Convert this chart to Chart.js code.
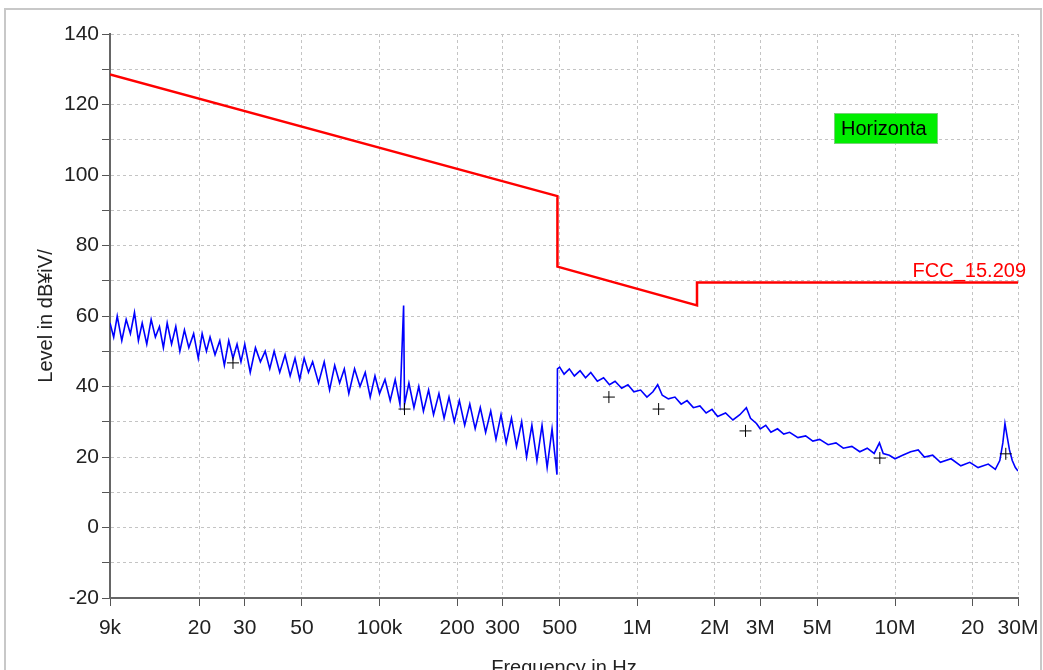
<!DOCTYPE html>
<html>
<head>
<meta charset="utf-8">
<script src="https://cdn.jsdelivr.net/npm/chart.js@4"></script>
<style>
  html, body { margin: 0; padding: 0; background: #fff; }
  #wrap { width: 1043px; height: 670px; position: relative; }
</style>
</head>
<body>
<div id="wrap"><canvas id="chart" width="1043" height="670"></canvas></div>
<script>
// frequencies in kHz, levels in dBuV
const tickFreqs = [9, 20, 30, 50, 100, 200, 300, 500, 1000, 2000, 3000, 5000, 10000, 20000, 30000];
const tickLabels = ['9k', '20', '30', '50', '100k', '200', '300', '500', '1M', '2M', '3M', '5M', '10M', '20', '30M'];

const limitFreqs = [9, 490, 490, 1705, 1705, 30000];
const limitLevels = [128.5, 94, 74, 63, 69.5, 69.5];

const scanFreqs = [
  9, 9.3, 9.6, 10, 10.4, 10.8, 11.2, 11.6, 12, 12.5, 13, 13.5, 14, 14.5, 15, 15.6, 16.2, 16.8, 17.5, 18.2,
  19, 19.8, 20.5, 21.3, 22, 23, 24, 25, 26, 27, 28, 29, 30, 31.5, 33, 34.5, 36, 37.5, 39, 41,
  43, 45, 47, 49, 51, 53, 55, 58, 61, 64, 67, 70, 73, 76, 80, 84, 88, 92, 96, 100,
  105, 110, 115, 120, 124, 125, 130, 136, 142, 148, 155, 162, 170, 178, 186, 195, 204, 214, 224, 235,
  246, 258, 270, 283, 296, 310, 325, 340, 356, 372, 390, 408, 427, 447, 467, 488, 490,
  500, 520, 545, 570, 600, 630, 660, 700, 740, 780, 820, 870, 920, 970, 1030, 1090, 1150, 1200, 1250, 1320,
  1400, 1480, 1560, 1650, 1750, 1850, 1950, 2050, 2200, 2350, 2500, 2650, 2750, 2900, 3000, 3150, 3300, 3500, 3700, 3900,
  4200, 4500, 4800, 5100, 5500, 5900, 6300, 6800, 7300, 7800, 8300, 8700, 9000, 9500, 10000, 10700, 11500, 12300, 13000, 14000,
  15000, 16500, 18000, 19500, 21000, 23000, 24500, 25500, 26200, 26700, 27200, 27800, 28500, 29300, 30000
];
const scanLevels = [
  58, 54, 60, 53, 59, 55, 61, 53, 58, 52, 59, 54, 57, 51, 58, 52, 57, 50, 56, 51,
  55, 48, 55, 50, 54, 49, 53, 46, 53, 48, 52, 47, 52, 44, 51, 47, 50, 45, 50, 44,
  49, 43, 48, 42, 48, 44, 47, 41, 47, 39, 46, 41, 45, 38, 45, 40, 44, 37, 43, 38,
  42, 36, 42, 35, 63, 35, 41, 34, 40, 33, 39, 32, 38, 31, 37, 30, 36, 29, 35, 28,
  34, 27, 33, 25, 32, 24, 31, 23, 30, 20, 29, 19, 29, 17, 28, 15, 45,
  45.5, 43.5, 45, 43, 44.5, 42.5, 44, 41.5, 42.5, 40.5, 41.5, 39.5, 40.5, 38.5, 39, 37, 38.5, 40.5, 37.5, 36.5,
  37, 35, 36, 34, 34.5, 32.5, 33.5, 31.5, 32.5, 30.5, 32, 34, 31, 29.5, 28, 29, 27, 28, 26.5, 27,
  25.5, 26, 24.5, 25, 23.5, 24, 22.5, 23, 21.5, 22.5, 21, 24, 21, 20.5, 19.5, 20.5, 21.5, 22, 20, 20.5,
  18.5, 19.5, 17.5, 18.5, 17, 18, 16.5, 19, 24, 29.5, 26, 22, 19, 17, 16
];

const markerFreqs = [27, 125, 776, 1210, 2630, 8730, 26900];
const markerLevels = [46.7, 33.6, 37, 33.6, 27.4, 19.7, 20.9];

const toXY = (fs, ls) => fs.map((f, i) => ({ x: f * 1000, y: ls[i] }));
const FONT = '"Liberation Sans", Arial, sans-serif';

const overlay = {
  id: 'overlay',
  beforeDraw(c) {
    const g = c.ctx;
    g.save();
    g.strokeStyle = '#c8c8c8';
    g.lineWidth = 2;
    g.strokeRect(5, 9, 1036, 700);
    g.restore();
  },
  afterDraw(c) {
    const g = c.ctx;
    g.save();
    g.fillStyle = '#00ee00';
    g.fillRect(834, 113, 103, 30);
    g.strokeStyle = '#7ad07a';
    g.lineWidth = 1;
    g.strokeRect(834.5, 113.5, 103, 30);
    g.fillStyle = '#000';
    g.font = '20px ' + FONT;
    g.textBaseline = 'middle';
    g.fillText('Horizonta', 841, 129);
    g.fillStyle = '#ff0000';
    g.textAlign = 'right';
    g.textBaseline = 'alphabetic';
    g.fillText('FCC_15.209', 1026, 277);
    g.restore();
  }
};

new Chart(document.getElementById('chart'), {
  type: 'line',
  data: {
    datasets: [
      { data: toXY(limitFreqs, limitLevels), borderColor: '#ff0000', borderWidth: 2.5, pointRadius: 0, tension: 0, order: 1 },
      { data: toXY(scanFreqs, scanLevels), borderColor: '#0000ff', borderWidth: 1.6, pointRadius: 0, tension: 0, order: 2 },
      { data: toXY(markerFreqs, markerLevels), showLine: false, pointStyle: 'cross', pointRadius: 6, pointBorderColor: '#000', pointBorderWidth: 1, order: 0 }
    ]
  },
  options: {
    responsive: false,
    animation: false,
    layout: { padding: { top: 34, right: 25, left: 0, bottom: 0 } },
    plugins: { legend: { display: false }, tooltip: { enabled: false } },
    scales: {
      x: {
        type: 'logarithmic',
        min: 9000,
        max: 30000000,
        afterBuildTicks(s) { s.ticks = tickFreqs.map(f => ({ value: f * 1000 })); },
        afterFit(s) { s.height = 72; s.paddingLeft = 0; s.paddingRight = 0; },
        ticks: {
          autoSkip: false, maxRotation: 0, padding: 10, color: '#222',
          font: { size: 21, family: FONT },
          callback: (v, i) => tickLabels[i]
        },
        grid: { color: '#c4c4c4', tickLength: 8, tickColor: '#555' },
        border: { color: '#666', width: 2, dash: [3, 3] },
        title: { display: true, text: 'Frequency in Hz', color: '#222', padding: { top: 22, bottom: -10 },
          font: { size: 20, family: FONT } }
      },
      y: {
        min: -20,
        max: 140,
        afterFit(s) { s.width = 110; s.paddingTop = 0; s.paddingBottom = 0; },
        ticks: {
          stepSize: 10, padding: 3, color: '#222',
          font: { size: 21, family: FONT },
          callback: v => (v % 20 === 0 ? v : '')
        },
        grid: { color: '#c4c4c4', tickLength: 8, tickColor: '#555' },
        border: { color: '#666', width: 2, dash: [3, 3] },
        title: { display: true, text: 'Level in dB¥iV/', color: '#222', padding: { top: 34, bottom: 0 },
          font: { size: 20, family: FONT } }
      }
    }
  },
  plugins: [overlay]
});
</script>
</body>
</html>
